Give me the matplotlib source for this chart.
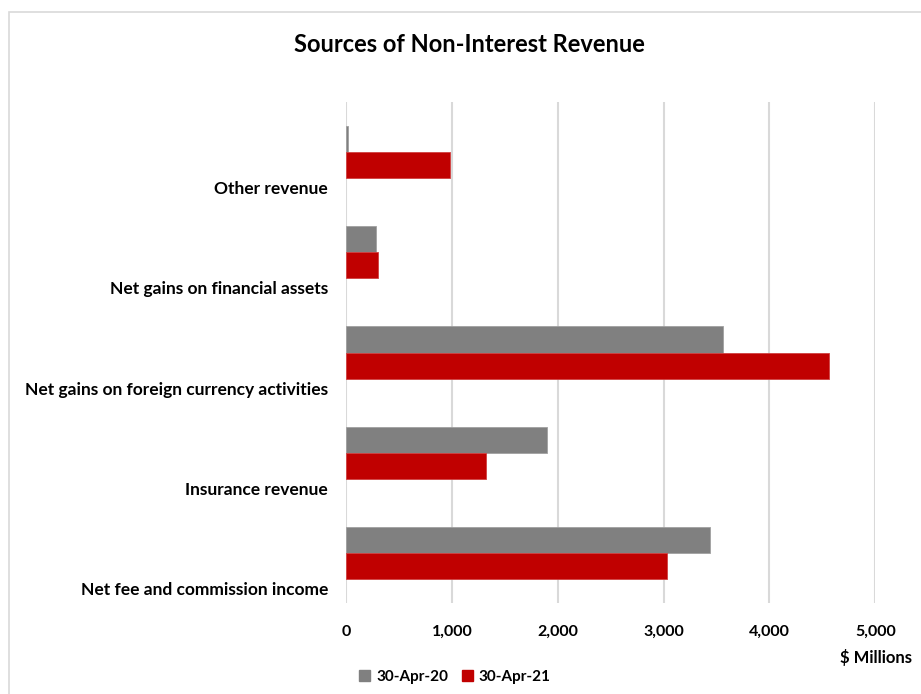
import matplotlib
matplotlib.use("Agg")
import matplotlib.pyplot as plt
import matplotlib.transforms as mtransforms
from matplotlib.patches import Rectangle, Patch
import numpy as np

categories = ["Net fee and commission income", "Insurance revenue",
              "Net gains on foreign currency activities",
              "Net gains on financial assets", "Other revenue"]
series_names = ["30-Apr-20", "30-Apr-21"]
apr20 = [3434, 1903, 3557, 284, 16]
apr21 = [3034, 1326, 4559, 302, 980]
xticks = [0, 1000, 2000, 3000, 4000, 5000]

GRAY = "#808080"
RED = "#C00000"
FONT = ["Lato", "DejaVu Sans"]
plt.rcParams['font.family'] = FONT

W, H = 921, 694
fig = plt.figure(figsize=(W / 100, H / 100), dpi=100)
ax = fig.add_axes([346 / W, 1 - 603 / H, (875.3 - 346) / W, (603 - 102) / H])

y = np.arange(len(categories))
h = 0.26
ax.barh(y + h / 2, apr20, height=h, color=GRAY, edgecolor="#a0a0a0", linewidth=0.6, label=series_names[0], zorder=3)
ax.barh(y - h / 2, apr21, height=h, color=RED, edgecolor="#d04040", linewidth=0.6, label=series_names[1], zorder=3)

ax.set_xlim(0, 5000)
ax.set_ylim(-0.5, len(categories) - 0.5)
ax.set_xticks(xticks)
ax.set_xticklabels([f"{v:,}" for v in xticks], fontsize=11.5, fontweight="bold", color="#000000")
ax.tick_params(axis="x", length=0, pad=16)
ax.set_yticks([])
for s in ax.spines.values():
    s.set_visible(False)
ax.grid(axis="x", color="#D9D9D9", linewidth=1.5, zorder=0)
ax.set_axisbelow(True)

# category labels (offset below band centre as in reference)
off = mtransforms.offset_copy(ax.transData, fig=fig, x=0, y=-37, units="dots")
for i, c in enumerate(categories):
    tr = mtransforms.blended_transform_factory(ax.transAxes, off)
    ax.text(-18 / (875.3 - 346), i, c, transform=tr, ha="right", va="center",
            fontsize=12.5, fontweight="bold", color="#000000")

fig.text(469 / W, 1 - 45 / H, "Sources of Non-Interest Revenue", ha="center", va="center",
         fontsize=17, fontweight="bold", color="#000000")
fig.text(912 / W, 1 - 658 / H, "$ Millions", ha="right", va="center",
         fontsize=12, fontweight="bold", color="#000000")

handles = [Patch(facecolor=GRAY, edgecolor=GRAY), Patch(facecolor=RED, edgecolor=RED)]
fig.legend(handles, series_names, loc="center", bbox_to_anchor=(455 / W, 1 - 677 / H),
           ncol=2, frameon=False, handlelength=0.7, handleheight=0.7, handletextpad=0.4,
           columnspacing=0.9, prop={"family": FONT, "weight": "bold", "size": 11})

fig.patches.append(Rectangle((9 / W, -0.05), 1.1, 1 - 12 / H + 0.05, transform=fig.transFigure,
                             fill=False, edgecolor="#D9D9D9", linewidth=1.2))

fig.savefig("out.png", dpi=100)
